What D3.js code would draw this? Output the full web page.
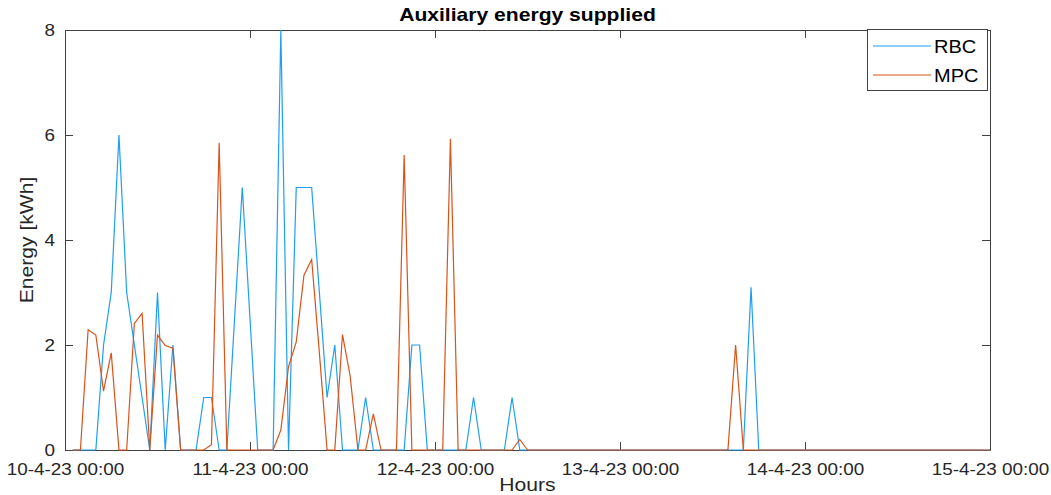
<!DOCTYPE html>
<html>
<head>
<meta charset="utf-8">
<script src="https://cdn.jsdelivr.net/npm/d3@7"></script>
<style>
  html, body { margin: 0; padding: 0; background: #fff; }
  svg { display: block; font-family: "Liberation Sans", Arial, Helvetica, sans-serif; }
</style>
</head>
<body>
<svg id="chart" width="1051" height="495"></svg>
<script>
// Hourly auxiliary energy (kWh) from 10-4-23 01:00 to 15-4-23 00:00
const startTime = new Date(2023, 3, 10, 0, 0);
const endTime = new Date(2023, 3, 15, 0, 0);
const seriesNames = ["RBC", "MPC"];
const seriesColors = ["#1E9FF2", "#D95319"];

const rbc = [
  0, 0, 0, 0, 2, 3, 6, 3, 2, 1, 0, 3,          // h1-12
  0, 2, 0, 0, 0, 1, 1, 0, 0, 2.5, 5, 2.5,      // h13-24
  0, 0, 0, 8, 0, 5, 5, 5, 3, 1, 2, 0,          // h25-36
  0, 0, 1, 0, 0, 0, 0, 0, 2, 2, 0, 0,          // h37-48
  0, 0, 0, 0, 1, 0, 0, 0, 0, 1, 0, 0,          // h49-60
  0, 0, 0, 0, 0, 0, 0, 0, 0, 0, 0, 0,          // h61-72
  0, 0, 0, 0, 0, 0, 0, 0, 0, 0, 0, 0,          // h73-84
  0, 0, 0, 0, 3.1, 0, 0, 0, 0, 0, 0, 0,        // h85-96
  0, 0, 0, 0, 0, 0, 0, 0, 0, 0, 0, 0,          // h97-108
  0, 0, 0, 0, 0, 0, 0, 0, 0, 0, 0, 0           // h109-120
];

const mpc = [
  0, 0, 2.29, 2.19, 1.12, 1.85, 0, 0, 2.41, 2.6, 0, 2.19,     // h1-12
  1.99, 1.94, 0, 0, 0, 0, 0.1, 5.85, 0, 0, 0, 0,              // h13-24
  0, 0, 0, 0.38, 1.59, 2.06, 3.33, 3.63, 1.85, 0, 0, 2.2,     // h25-36
  1.4, 0, 0, 0.69, 0, 0, 0, 5.62, 0, 0, 0, 0,                 // h37-48
  0, 5.93, 0, 0, 0, 0, 0, 0, 0, 0, 0.2, 0,                    // h49-60
  0, 0, 0, 0, 0, 0, 0, 0, 0, 0, 0, 0,                         // h61-72
  0, 0, 0, 0, 0, 0, 0, 0, 0, 0, 0, 0,                         // h73-84
  0, 0, 2.0, 0, 0, 0, 0, 0, 0, 0, 0, 0,                       // h85-96
  0, 0, 0, 0, 0, 0, 0, 0, 0, 0, 0, 0,                         // h97-108
  0, 0, 0, 0, 0, 0, 0, 0, 0, 0, 0, 0                          // h109-120
];

const yTicks = [0, 2, 4, 6, 8];
const xTickDates = [10, 11, 12, 13, 14, 15].map(d => new Date(2023, 3, d, 0, 0));

const title = "Auxiliary energy supplied";
const xLabel = "Hours";
const yLabel = "Energy [kWh]";

// Layout
const margin = { left: 65, right: 61, top: 30, bottom: 45 };
const W = 1051, H = 495;
const x0 = margin.left, x1 = W - margin.right;
const y0 = H - margin.bottom, y1 = margin.top;
const axisColor = "#404040";
const textColor = "#262626";
const tickLen = 8;
const widen = 1.11; // text drawn slightly wide

const svg = d3.select("#chart");

const x = d3.scaleTime().domain([startTime, endTime]).range([x0, x1]);
const y = d3.scaleLinear().domain([0, 8]).range([y0, y1]);

const hourDate = h => new Date(2023, 3, 10, h, 0);
const toPoints = arr => arr.map((v, i) => ({ t: hourDate(i + 1), v }));

// Widen a text element along its baseline
function stretch(sel, k = widen) {
  sel.each(function () {
    const len = this.getComputedTextLength();
    if (len > 0) {
      d3.select(this)
        .attr("textLength", len * k)
        .attr("lengthAdjust", "spacingAndGlyphs");
    }
  });
}

// Plot box
svg.append("rect")
  .attr("x", x0).attr("y", y1)
  .attr("width", x1 - x0).attr("height", y0 - y1)
  .attr("fill", "#fff");

// Axes with inward ticks (bottom/left labeled, top/right mirrored)
const fmt = d3.timeFormat("%-d-%-m-%y %H:%M");
const xAxis = d3.axisBottom(x).tickValues(xTickDates).tickFormat(fmt)
  .tickSizeInner(-tickLen).tickSizeOuter(0).tickPadding(13);
const yAxis = d3.axisLeft(y).tickValues(yTicks).tickFormat(d3.format("d"))
  .tickSizeInner(-tickLen).tickSizeOuter(0).tickPadding(10);
const xTop = d3.axisTop(x).tickValues(xTickDates).tickFormat("")
  .tickSizeInner(-tickLen).tickSizeOuter(0);
const yRight = d3.axisRight(y).tickValues(yTicks).tickFormat("")
  .tickSizeInner(-tickLen).tickSizeOuter(0);

function styleAxis(g) {
  g.select(".domain").attr("stroke", axisColor).attr("stroke-width", 1);
  g.selectAll(".tick line").attr("stroke", axisColor).attr("stroke-width", 1);
  g.selectAll(".tick text").attr("fill", textColor)
    .style("font-size", "17px").style("font-family", "'Liberation Sans', Arial, sans-serif");
}

const gx = svg.append("g").attr("transform", `translate(0,${y0})`).call(xAxis).call(styleAxis);
const gy = svg.append("g").attr("transform", `translate(${x0},0)`).call(yAxis).call(styleAxis);
svg.append("g").attr("transform", `translate(0,${y1})`).call(xTop).call(styleAxis);
svg.append("g").attr("transform", `translate(${x1},0)`).call(yRight).call(styleAxis);
gx.selectAll(".tick text").call(stretch);
gy.selectAll(".tick text").call(stretch);

// Series lines
const line = d3.line().x(d => x(d.t)).y(d => y(d.v));
[rbc, mpc].forEach((arr, i) => {
  svg.append("path")
    .datum(toPoints(arr))
    .attr("fill", "none")
    .attr("stroke", seriesColors[i])
    .attr("stroke-width", 1.2)
    .attr("stroke-linejoin", "miter")
    .attr("d", line);
});

// Title and axis labels
svg.append("text")
  .attr("x", (x0 + x1) / 2).attr("y", 21)
  .attr("text-anchor", "middle")
  .attr("fill", "#000")
  .style("font-size", "19px").style("font-weight", "bold")
  .text(title)
  .call(stretch);

svg.append("text")
  .attr("x", (x0 + x1) / 2).attr("y", 491)
  .attr("text-anchor", "middle")
  .attr("fill", textColor)
  .style("font-size", "19px")
  .text(xLabel)
  .call(stretch);

svg.append("text")
  .attr("transform", `translate(33,${(y0 + y1) / 2}) rotate(-90)`)
  .attr("text-anchor", "middle")
  .attr("fill", textColor)
  .style("font-size", "19px")
  .text(yLabel)
  .call(stretch);

// Legend
const lg = svg.append("g");
lg.append("rect")
  .attr("x", 867.5).attr("y", 29.5)
  .attr("width", 120).attr("height", 61)
  .attr("fill", "#fff").attr("stroke", axisColor).attr("stroke-width", 1);
seriesNames.forEach((name, i) => {
  const ly = 46 + i * 29;
  lg.append("line")
    .attr("x1", 873).attr("x2", 931)
    .attr("y1", ly).attr("y2", ly)
    .attr("stroke", seriesColors[i]).attr("stroke-width", 1.2);
  lg.append("text")
    .attr("x", 934).attr("y", ly + 7)
    .attr("fill", "#000")
    .style("font-size", "18px")
    .text(name)
    .call(stretch);
});
</script>
</body>
</html>
